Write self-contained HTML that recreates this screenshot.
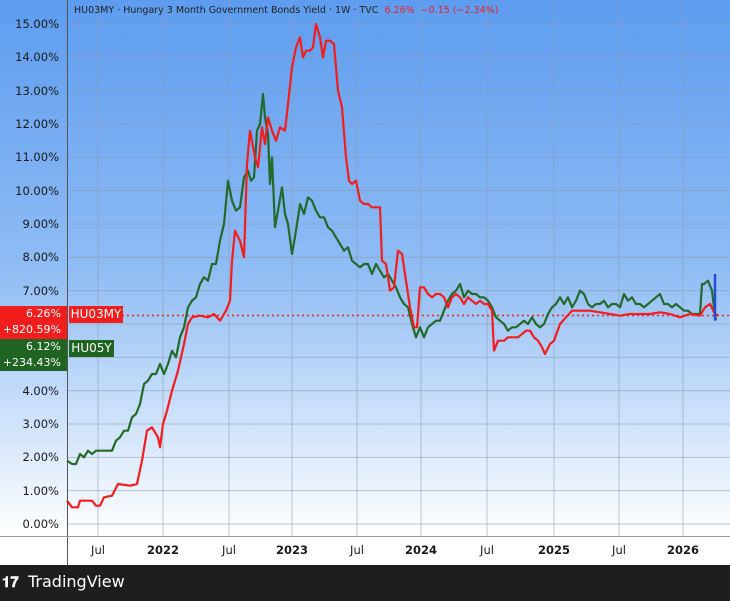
<!DOCTYPE html>
<html><head><meta charset="utf-8"><style>
html,body{margin:0;padding:0;}
body{width:730px;height:601px;overflow:hidden;font-family:"DejaVu Sans","Liberation Sans",sans-serif;position:relative;background:#fff;}
#bg{position:absolute;left:0;top:0;width:730px;height:536px;background:linear-gradient(#5d9cef 0%,#8fbcf4 50%,#ffffff 100%);}
.yl{position:absolute;right:671px;font-size:11.5px;color:#1a1a1a;transform:translateY(-50%);}
.xl{position:absolute;top:543px;font-size:11.5px;color:#1a1a1a;transform:translateX(-50%);}
#foot{position:absolute;left:0;top:565px;width:730px;height:36px;background:#1e1e1e;color:#fff;font-size:16px;}
</style></head><body>
<div id="bg"></div>
<svg id="s" width="730" height="601" style="position:absolute;left:0;top:0"></svg>
<div style="position:absolute;left:74px;top:5px;font-size:9.5px;color:#222">HU03MY · Hungary 3 Month Government Bonds Yield · 1W · TVC <span style="color:#e8202a">&nbsp;6.26% &nbsp;−0.15 (−2.34%)</span></div>
<div id="labs"></div>
<div style="position:absolute;left:0;top:306px;width:67px;height:33px;background:#f21d1d;color:#fff;font-size:11px;text-align:right;line-height:16px;"><div style="padding-right:6px">6.26%</div><div style="padding-right:6px">+820.59%</div></div>
<div style="position:absolute;left:0;top:339px;width:67px;height:32px;background:#1f6420;color:#fff;font-size:11px;text-align:right;line-height:16px;"><div style="padding-right:6px">6.12%</div><div style="padding-right:6px">+234.43%</div></div>
<div style="position:absolute;left:69px;top:306px;width:54px;height:17px;background:#f21d1d;color:#fff;font-size:12px;line-height:17px;text-align:center">HU03MY</div>
<div style="position:absolute;left:69px;top:340px;width:45px;height:17px;background:#1f6420;color:#fff;font-size:12px;line-height:17px;text-align:center">HU05Y</div>
<div id="foot"><span style="position:absolute;left:2px;top:8px;font-weight:bold;font-size:15px">𝟏𝟕</span><span style="position:absolute;left:28px;top:7px;font-size:16px">TradingView</span></div>
<script>
var s=document.getElementById('s'),h='';
function Y(v){return 524-33.333*v;}
for(var i=0;i<=15;i++){var y=Y(i);h+='<line x1="67" x2="730" y1="'+y+'" y2="'+y+'" stroke="#8a9bb0" stroke-width="1" opacity="0.55"/>';
document.getElementById('labs').innerHTML+='<div class="yl" style="top:'+y+'px">'+i+'.00%</div>';}
var xs=[[98,'Jul'],[163,'2022'],[229,'Jul'],[292,'2023'],[357,'Jul'],[421,'2024'],[487,'Jul'],[554,'2025'],[619,'Jul'],[683,'2026']];
xs.forEach(function(t){h+='<line x1="'+t[0]+'" x2="'+t[0]+'" y1="0" y2="536" stroke="#8a9bb0" opacity="0.55"/>';
document.getElementById('labs').innerHTML+='<div class="xl" style="left:'+t[0]+'px;'+(t[1]!='Jul'?'font-weight:bold':'')+'">'+t[1]+'</div>';});
h+='<line x1="67.5" x2="67.5" y1="0" y2="565" stroke="#555"/><line x1="0" x2="730" y1="536.5" y2="536.5" stroke="#999"/>';
var R=[67,.7,72,.5,78,.5,80,.7,92,.7,96,.55,100,.55,104,.8,112,.85,118,1.2,130,1.15,137,1.2,142,1.9,147,2.8,152,2.9,158,2.6,160,2.3,163,3,167,3.4,172,4,178,4.6,184,5.4,188,6,192,6.2,200,6.25,208,6.2,214,6.3,220,6.1,226,6.4,230,6.7,232,7.9,235,8.8,240,8.5,244,8,247,10.8,250,11.8,255,11,258,10.7,262,11.9,265,11.4,268,12.2,272,11.8,276,11.5,280,11.9,285,11.8,288,12.6,292,13.7,296,14.3,300,14.6,303,14,306,14.2,310,14.2,313,14.3,316,15,320,14.6,323,14,326,14.5,330,14.5,334,14.4,338,13,342,12.5,346,11,349,10.3,352,10.2,356,10.3,360,9.7,364,9.6,368,9.6,372,9.5,376,9.5,380,9.5,382,7.9,386,7.8,390,7,394,7.1,398,8.2,402,8.1,406,7.3,410,6.5,414,5.9,417,5.9,420,7.1,424,7.1,428,6.9,432,6.8,436,6.9,440,6.9,444,6.8,448,6.5,452,6.8,456,6.9,460,6.8,464,6.6,468,6.8,472,6.7,476,6.6,480,6.7,484,6.6,488,6.6,492,6.4,494,5.2,498,5.5,504,5.5,508,5.6,512,5.6,518,5.6,526,5.8,530,5.8,534,5.6,538,5.5,542,5.3,545,5.1,550,5.4,554,5.5,560,6,566,6.2,572,6.4,580,6.4,590,6.4,600,6.35,610,6.3,620,6.25,630,6.3,640,6.3,650,6.3,660,6.35,670,6.3,680,6.2,690,6.3,700,6.25,705,6.5,710,6.6,715,6.3,718,6.26];
var G=[67,1.9,72,1.8,76,1.8,80,2.1,84,2,88,2.2,92,2.1,96,2.2,100,2.2,104,2.2,108,2.2,112,2.2,116,2.5,120,2.6,124,2.8,128,2.8,132,3.2,136,3.3,140,3.6,144,4.2,148,4.3,152,4.5,156,4.5,160,4.8,164,4.5,168,4.8,172,5.2,176,5,180,5.6,184,5.9,188,6.5,192,6.7,196,6.8,200,7.2,204,7.4,208,7.3,212,7.8,216,7.8,220,8.5,224,9,228,10.3,232,9.7,236,9.4,240,9.5,244,10.4,248,10.6,251,10.3,254,10.4,257,11.8,260,12,263,12.9,265,12.2,268,11.7,270,10.2,272,11,275,8.9,278,9.4,282,10.1,285,9.3,288,9,292,8.1,296,8.8,300,9.6,304,9.3,308,9.8,312,9.7,316,9.4,320,9.2,324,9.2,328,8.9,332,8.8,336,8.6,340,8.4,344,8.2,348,8.3,352,7.9,356,7.8,360,7.7,364,7.8,368,7.8,372,7.5,376,7.8,380,7.6,384,7.4,388,7.5,392,7.3,396,7.1,400,6.8,404,6.6,408,6.5,412,6,416,5.6,420,5.9,424,5.6,428,5.9,432,6,436,6.1,440,6.1,444,6.4,448,6.7,452,6.9,456,7,460,7.2,464,6.8,468,7,472,6.9,476,6.9,480,6.8,484,6.8,488,6.7,492,6.5,496,6.2,500,6.1,504,6,508,5.8,512,5.9,516,5.9,520,6,524,6.1,528,6,532,6.2,536,6,540,5.9,544,6,548,6.3,552,6.5,556,6.6,560,6.8,564,6.6,568,6.8,572,6.5,576,6.7,580,7,584,6.9,588,6.6,592,6.5,596,6.6,600,6.6,604,6.7,608,6.5,612,6.6,616,6.6,620,6.5,624,6.9,628,6.7,632,6.8,636,6.6,640,6.6,644,6.5,648,6.6,652,6.7,656,6.8,660,6.9,664,6.6,668,6.6,672,6.5,676,6.6,680,6.5,684,6.4,688,6.4,692,6.3,696,6.3,700,6.3,702,7.2,704,7.2,708,7.3,712,7,714,6.5,716,6.12];
function pl(a,c){var p='';for(var i=0;i<a.length;i+=2)p+=a[i]+','+Y(a[i+1]).toFixed(1)+' ';return '<polyline points="'+p+'" fill="none" stroke="'+c+'" stroke-width="2.2" stroke-linejoin="round"/>';}
h+='<line x1="122" x2="730" y1="315.5" y2="315.5" stroke="#f21d1d" stroke-width="1.5" stroke-dasharray="2,3"/>';
h+=pl(G,'#23692a')+pl(R,'#f21d1d');
h+='<line x1="715" x2="715" y1="'+Y(7.5)+'" y2="'+Y(6.1)+'" stroke="#2050d0" stroke-width="2.5"/>';
s.innerHTML=h;
</script>
</body></html>
